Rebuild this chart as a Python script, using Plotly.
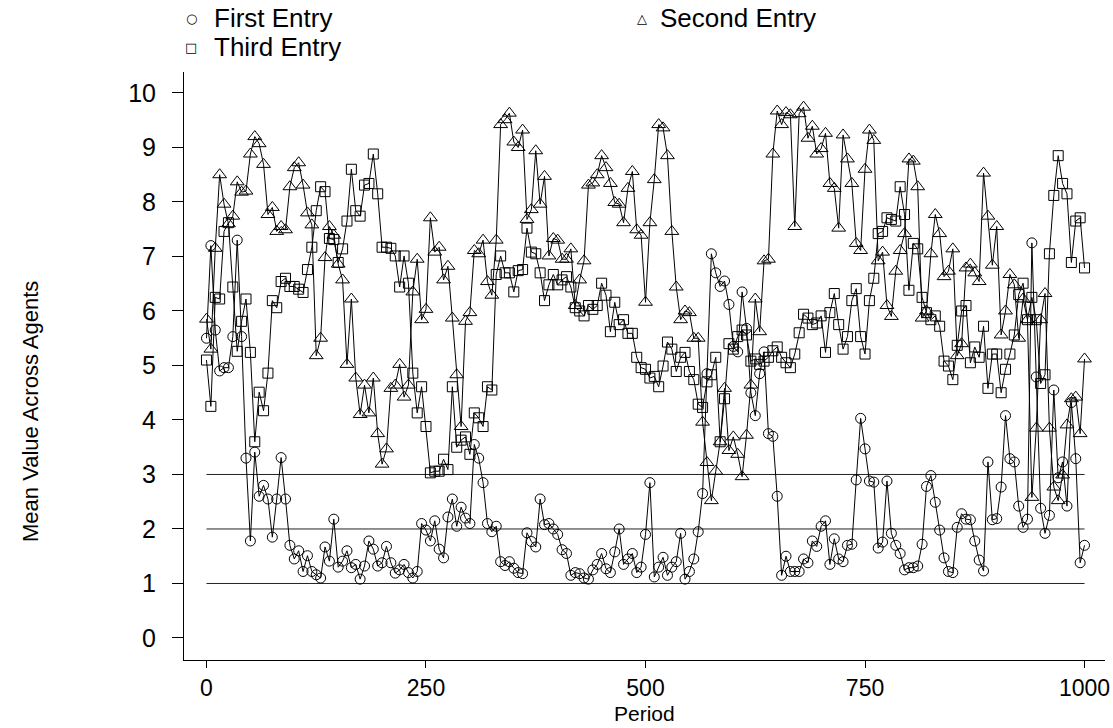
import plotly.graph_objects as go

periods = list(range(0, 1001, 5))

first_entry = [
    5.5, 7.2, 5.65, 4.9, 4.96, 4.96, 5.53, 7.3, 5.53, 3.3,
    1.78, 3.41, 2.6, 2.8, 2.55, 1.85, 2.55, 3.31, 2.55, 1.7,
    1.45, 1.6, 1.22, 1.51, 1.22, 1.16, 1.1, 1.67, 1.41, 2.18,
    1.3, 1.41, 1.6, 1.29, 1.35, 1.08, 1.32, 1.78, 1.63, 1.32,
    1.38, 1.68, 1.38, 1.19, 1.25, 1.35, 1.2, 1.1, 1.22, 2.1,
    1.98, 1.78, 2.15, 1.63, 1.47, 2.22, 2.55, 2.05, 2.4, 2.2,
    2.1, 3.55, 3.3, 2.85, 2.1, 1.95, 2.05, 1.4, 1.33, 1.4,
    1.28, 1.2, 1.18, 1.93, 1.77, 1.67, 2.55, 2.08, 2.1, 2.0,
    1.9, 1.62, 1.55, 1.15, 1.2, 1.18, 1.1, 1.08, 1.25, 1.35,
    1.55, 1.27, 1.2, 1.58, 2.0, 1.35, 1.45, 1.55, 1.2, 1.3,
    1.9, 2.85, 1.12, 1.3, 1.48, 1.15, 1.3, 1.4, 1.92, 1.08,
    1.22, 1.45, 1.95, 2.65, 4.85, 7.05, 6.7, 6.45, 6.55, 6.12,
    5.35, 5.25, 6.35, 5.68, 4.5, 4.08, 4.85, 5.25, 3.75, 3.7,
    2.6, 1.15, 1.5, 1.22, 1.22, 1.22, 1.45, 1.38, 1.78, 1.68,
    2.05, 2.15, 1.35, 1.82, 1.45, 1.4, 1.7, 1.72, 2.9, 4.03,
    3.47, 2.88, 2.86, 1.65, 1.76, 2.88, 1.92, 1.7, 1.55, 1.25,
    1.29, 1.29, 1.32, 1.72, 2.78, 2.98, 2.49, 1.98, 1.47, 1.22,
    1.2, 2.03, 2.28, 2.18, 2.17, 1.78, 1.43, 1.23, 3.23, 2.17,
    2.19, 2.77, 4.08, 3.29, 3.23, 2.42, 2.03, 2.18, 7.25, 4.79,
    2.38, 1.92, 2.25, 4.55, 2.94, 3.23, 2.42, 4.32, 3.29, 1.38,
    1.7,
]

second_entry = [
    5.85, 5.3, 7.15, 8.5, 7.96, 7.6, 7.74, 8.37, 8.18, 8.2,
    8.88, 9.2, 9.07, 8.69, 7.77, 7.9, 7.46, 7.55, 7.49, 8.28,
    8.63, 8.72, 8.31, 7.8, 7.58, 5.18, 5.5, 6.98, 7.55, 7.39,
    6.86, 6.57, 5.02, 6.22, 4.77, 4.1, 4.64, 4.13, 4.77, 3.75,
    3.19, 3.47, 4.58, 4.64, 5.02, 4.42, 4.64, 6.35, 6.95, 5.84,
    6.03, 7.71, 7.08, 7.17, 6.57, 6.82, 5.87, 4.83, 3.88, 5.81,
    5.97, 7.11, 7.05, 7.3, 6.54, 6.29, 7.3, 9.42, 9.51, 9.63,
    9.1, 9.0, 9.32, 7.68, 7.86, 8.94, 7.96, 8.47, 7.01, 7.33,
    7.3, 6.95, 6.95, 7.14, 6.1, 6.57, 6.92, 8.31, 8.35, 8.5,
    8.85, 8.63, 8.34, 7.99, 7.96, 7.62, 8.25, 8.56, 7.49, 7.39,
    6.16, 7.62, 8.41, 9.42, 9.36, 8.85, 7.46, 6.44, 5.84, 6.0,
    5.97, 5.5, 5.5, 3.96, 3.22, 2.52, 3.06, 3.6, 4.58, 3.44,
    3.69, 3.37, 2.96, 3.72, 4.64, 6.22, 5.62, 6.92, 6.95, 8.88,
    9.67, 9.42, 9.64, 9.6, 7.55, 9.62, 9.74, 9.17, 9.39, 8.88,
    8.98, 9.26, 8.34, 8.25, 7.52, 9.23, 8.79, 8.34, 7.24, 7.11,
    8.6, 9.32, 9.13, 6.92, 7.08, 6.1, 5.9, 6.73, 7.11, 7.42,
    8.79, 8.75, 8.28, 5.87, 6.0, 7.05, 7.77, 7.42, 6.63, 6.73,
    7.14, 5.18, 5.4, 6.79, 6.86, 6.7, 6.54, 8.53, 7.74, 6.84,
    7.55, 5.56, 6.0, 6.67, 6.48, 5.5, 6.22, 5.84, 2.58, 3.85,
    5.84, 6.32, 3.85, 2.77, 2.52, 2.99, 3.91, 4.39, 4.42, 3.75,
    5.12,
]

third_entry = [
    5.1, 4.25, 6.25, 6.22, 7.46, 7.62, 6.44, 5.26, 5.81, 6.22,
    5.24, 3.6, 4.51, 4.17, 4.86, 6.19, 6.06, 6.54, 6.6, 6.45,
    6.45, 6.4, 6.34, 6.76, 7.17, 7.84, 8.28, 8.19, 7.33, 7.31,
    6.89, 7.14, 7.65, 8.6, 7.84, 7.74, 8.31, 8.34, 8.88, 8.15,
    7.17, 7.17, 7.15, 7.01, 6.44, 7.01, 6.51, 4.86, 4.13, 4.61,
    3.88, 3.03, 3.06, 3.06, 3.28, 3.09, 4.61, 3.5, 3.63, 3.69,
    3.37, 4.13, 4.04, 3.88, 4.61, 4.55, 6.67, 7.01, 6.7, 6.7,
    6.35, 6.74, 6.76, 7.52, 7.08, 7.05, 6.7, 6.19, 6.48, 6.67,
    6.48, 6.57, 6.63, 6.44, 6.06, 6.0, 5.91, 6.1, 6.03, 6.1,
    6.51, 6.29, 5.62, 6.16, 5.75, 5.84, 5.59, 5.59, 5.15, 4.96,
    4.93, 4.77, 4.8, 4.61, 4.99, 5.43, 5.3, 4.89, 5.15, 5.24,
    4.89, 4.74, 4.29, 4.23, 4.7, 4.83, 5.15, 3.6, 4.39, 5.4,
    5.3, 5.53, 5.65, 5.56, 5.08, 5.12, 5.02, 5.08, 5.15, 5.27,
    5.34, 5.15, 5.05, 4.96, 5.21, 5.6, 5.94, 5.87, 5.75, 5.78,
    5.91, 5.24, 5.97, 6.32, 5.75, 5.3, 5.53, 6.19, 6.41, 5.53,
    5.21, 6.19, 6.6, 7.42, 7.46, 7.71, 7.68, 7.65, 8.28, 7.77,
    6.38, 7.24, 7.14, 6.25, 5.97, 5.84, 5.91, 5.72, 5.08, 4.99,
    4.74, 5.37, 6.0, 6.1, 5.05, 5.34, 5.15, 5.72, 4.58, 5.21,
    5.21, 4.5, 4.93, 5.21, 5.56, 6.3, 6.51, 5.84, 6.25, 5.84,
    4.67, 4.83, 7.05, 8.12, 8.85, 8.34, 8.15, 6.89, 7.65, 7.71,
    6.79,
]

series_names = ["First Entry", "Second Entry", "Third Entry"]
series_symbols = ["circle-open", "triangle-up-open", "square-open"]
legend_glyphs = ["\u25CB", "\u25B3", "\u25A1"]
series_sizes = [10, 12, 10]
reference_levels = [1, 2, 3]
x_ticks = [0, 250, 500, 750, 1000]
y_ticks = list(range(0, 11))
x_title = "Period"
y_title = "Mean Value Across Agents"

FONT = "Liberation Sans, Arial, Helvetica, sans-serif"
W, H = 1113, 728
ML, MR, MT, MB = 184, 8, 72, 68

fig = go.Figure()

for name, vals, sym, sz in zip(series_names, [first_entry, second_entry, third_entry],
                               series_symbols, series_sizes):
    fig.add_trace(go.Scatter(
        x=periods, y=vals, mode="lines",
        line=dict(color="black", width=1),
        showlegend=False, hoverinfo="skip",
    ))
    fig.add_trace(go.Scatter(
        x=periods, y=vals, mode="markers", name=name, showlegend=False,
        marker=dict(symbol=sym, size=sz, color="black", line=dict(width=1, color="black")),
    ))

for lvl in reference_levels:
    fig.add_shape(type="line", xref="x", yref="y",
                  x0=periods[0], x1=periods[-1], y0=lvl, y1=lvl,
                  line=dict(color="#222222", width=1), layer="below")


def px_annot(text, px, py, size, family=FONT, xanchor="center", angle=0):
    fig.add_annotation(
        xref="paper", yref="paper", x=0, y=0,
        xshift=px - ML, yshift=(H - py) - MB,
        text=text, showarrow=False, xanchor=xanchor, yanchor="middle",
        borderpad=0, textangle=angle,
        font=dict(size=size, family=family, color="black"),
    )


# legend keys: row 1 (First | Second), row 2 (Third)
legend_slots = [(191, 18), (642, 18), (191, 47)]
legend_text_gap = [22, 17, 22]
for name, glyph, (px, py), gap in zip(series_names, legend_glyphs, legend_slots, legend_text_gap):
    px_annot(glyph, px, py, 13, family="DejaVu Sans")
    px_annot(name, px + gap, py, 26, xanchor="left")

# axis titles
px_annot(x_title, (ML + W - MR) / 2, 713, 21)
px_annot(y_title, 30, 412, 22, angle=-90)

fig.update_layout(
    width=W, height=H,
    margin=dict(l=ML, r=MR, t=MT, b=MB, autoexpand=False),
    paper_bgcolor="white", plot_bgcolor="white",
    font=dict(family=FONT, color="black", size=22),
    showlegend=False,
    xaxis=dict(
        range=[-25.6, 1023.3], tickvals=x_ticks, ticktext=[str(t) for t in x_ticks],
        showline=True, linecolor="black", linewidth=1, mirror=False,
        ticks="outside", ticklen=7, tickcolor="black", tickwidth=1,
        showgrid=False, zeroline=False,
        tickfont=dict(size=23, family=FONT), ticklabelstandoff=0,
    ),
    yaxis=dict(
        range=[-0.404, 10.385], tickvals=y_ticks, ticktext=[str(t) for t in y_ticks],
        showline=True, linecolor="black", linewidth=1, mirror=False,
        ticks="outside", ticklen=11, tickcolor="black", tickwidth=1,
        showgrid=False, zeroline=False,
        tickfont=dict(size=25, family=FONT), ticklabelstandoff=11,
    ),
)

fig.write_html("out.html")
